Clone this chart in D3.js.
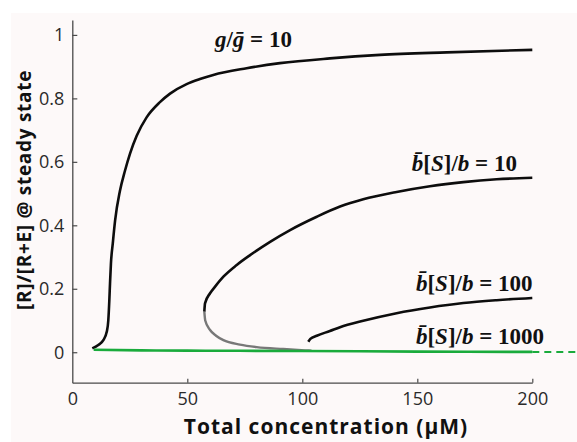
<!DOCTYPE html>
<html><head><meta charset="utf-8">
<script src="https://cdn.jsdelivr.net/npm/d3@7"></script>
<style>body{margin:0;background:#fff;}svg{display:block;}</style>
</head><body>
<svg id="c" width="577" height="442"></svg>
<script>
// ---- data ----
const xTicks = [0, 50, 100, 150, 200];
const yTicks = [0, 0.2, 0.4, 0.6, 0.8, 1];
const yTickLabels = ["0", "0.2", "0.4", "0.6", "0.8", "1"];
// g/gbar = 10 curve
const curveG = [[8.7,0.012],[11.3,0.023],[13.5,0.038],[15.0,0.065],[15.65,0.10],[16.1,0.164],[16.4,0.217],[16.8,0.28],[17.6,0.343],[18.6,0.415],[20.7,0.508],[22.9,0.572],[25.1,0.626],[28,0.682],[32.3,0.74],[38.1,0.788],[42.5,0.815],[49.7,0.845],[55.5,0.861],[61.3,0.874],[75.8,0.895],[90.3,0.911],[112,0.926],[133.8,0.937],[162.8,0.945],[200,0.953]];
// bbar[S]/b = 10, stable upper branch
const curveS10Upper = [[57.4,0.128],[57.7,0.154],[59.9,0.186],[62,0.206],[65.7,0.238],[71.5,0.275],[77.3,0.306],[86,0.348],[94.7,0.385],[106.3,0.427],[116.4,0.459],[126.5,0.482],[141,0.505],[155.5,0.523],[170,0.536],[184.5,0.545],[200,0.55]];
// bbar[S]/b = 10, unstable (gray) branch
const curveS10Lower = [[57.4,0.128],[57.8,0.1],[59.9,0.07],[62.5,0.052],[65.7,0.038],[72.9,0.024],[80.2,0.016],[91.7,0.01],[101.2,0.006],[104,0.005]];
// bbar[S]/b = 100
const curveS100 = [[102.6,0.033],[103.5,0.042],[106.3,0.052],[112,0.067],[116.4,0.079],[126.5,0.099],[141,0.123],[155.5,0.141],[170,0.155],[184.5,0.164],[200,0.171]];
// bbar[S]/b = 1000 (green)
const curveS1000 = [[9.3,0.008],[30,0.006],[50,0.005],[100,0.004],[150,0.002],[200,0.001]];
const curveS1000Ext = [[200,0.001],[220,0.001]];
const sLabels = ["10", "100", "1000"];
const sLabelPos = [[147.6,0.572],[149.4,0.194],[149.4,0.026]];
const gLabelPos = [62.0, 0.962];

// ---- chart ----
const svg = d3.select("#c");
svg.append("rect").attr("x",11).attr("y",13).attr("width",577).attr("height",442).attr("fill","#fdf9f9");

const x = d3.scaleLinear().domain([0,200]).range([72.3,532.3]);
const y = d3.scaleLinear().domain([-0.096,1.047]).range([382.7,20]);

const axisColor = "#4a4a4a";
const gx = svg.append("g").attr("transform","translate(0,382.7)")
  .call(d3.axisBottom(x).tickValues(xTicks).tickSize(-4).tickSizeOuter(0).tickPadding(10));
const gy = svg.append("g").attr("transform","translate(72.3,0)")
  .call(d3.axisLeft(y).tickValues(yTicks).tickFormat((d,i)=>yTickLabels[i]).tickSize(-5).tickSizeOuter(0).tickPadding(8));
[gx,gy].forEach(g=>{
  g.select(".domain").attr("stroke",axisColor).attr("stroke-width",1.3);
  g.selectAll(".tick line").attr("stroke",axisColor).attr("stroke-width",1.2);
  g.selectAll(".tick text").attr("fill","#2a2a2a").attr("font-family","'Open Sans', sans-serif").attr("font-size",18);
});
gx.selectAll(".tick").filter(d=>d===0).select("line").remove();

const line = d3.line().x(d=>x(d[0])).y(d=>y(d[1])).curve(d3.curveMonotoneX);

svg.append("path").datum(curveS10Lower).attr("d",line).attr("fill","none").attr("stroke","#787878").attr("stroke-width",2.4);
svg.append("path").datum(curveS10Upper).attr("d",line).attr("fill","none").attr("stroke","#0d0d0d").attr("stroke-width",2.6);
svg.append("path").datum(curveS100).attr("d",line).attr("fill","none").attr("stroke","#0d0d0d").attr("stroke-width",2.6);
svg.append("path").datum(curveG).attr("d",line).attr("fill","none").attr("stroke","#0d0d0d").attr("stroke-width",2.6);
svg.append("path").datum(curveS1000).attr("d",line).attr("fill","none").attr("stroke","#1aab3c").attr("stroke-width",2.6);
svg.append("path").datum(curveS1000Ext).attr("d",line).attr("fill","none").attr("stroke","#1aab3c").attr("stroke-width",2).attr("stroke-dasharray","7,5");

// curve labels
const serif = "'Liberation Serif','Times New Roman',serif";
const gl = svg.append("text").attr("x",x(gLabelPos[0])).attr("y",y(gLabelPos[1]))
  .attr("font-family",serif).attr("font-weight","bold").attr("font-size",23).attr("fill","#111");
gl.append("tspan").attr("font-style","italic").text("g");
gl.append("tspan").text("/");
gl.append("tspan").attr("font-style","italic").text("\u1E21");
gl.append("tspan").text(" = 10");

sLabels.forEach((s,i)=>{
  const t = svg.append("text").attr("x",x(sLabelPos[i][0])).attr("y",y(sLabelPos[i][1]))
    .attr("font-family",serif).attr("font-weight","bold").attr("font-size",23).attr("fill","#111");
  t.append("tspan").attr("font-style","italic").text("b\u0304");
  t.append("tspan").text("[");
  t.append("tspan").attr("font-style","italic").text("S");
  t.append("tspan").text("]/");
  t.append("tspan").attr("font-style","italic").text("b");
  t.append("tspan").text(" = " + s);
});

// axis titles
svg.append("text").attr("x",326).attr("y",434).attr("text-anchor","middle")
  .attr("font-family","'Open Sans', sans-serif").attr("font-weight","bold").attr("font-size",21)
  .attr("letter-spacing","1px").attr("fill","#111")
  .text("Total concentration (\u03BCM)");
svg.append("text").attr("transform","translate(31,190) rotate(-90)").attr("text-anchor","middle")
  .attr("font-family","'Open Sans', sans-serif").attr("font-weight","bold").attr("font-size",19)
  .attr("letter-spacing","0.7px").attr("fill","#111")
  .text("[R]/[R+E] @ steady state");
</script>
</body></html>
